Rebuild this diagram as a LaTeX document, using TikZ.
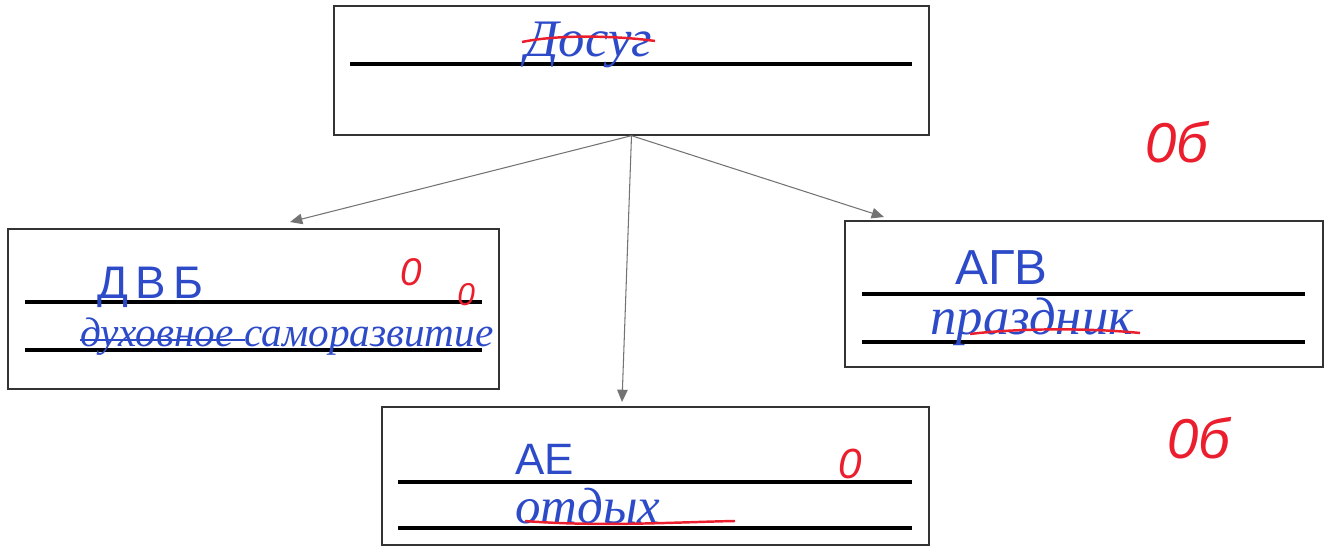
\documentclass[tikz,border=0pt]{standalone}
\usepackage{fontspec}
\setmainfont{Liberation Serif}
\newfontfamily\printfont{Liberation Sans}
\usetikzlibrary{arrows.meta}
\definecolor{ink}{RGB}{45,75,200}
\definecolor{pen}{RGB}{235,30,45}

\begin{document}
\begin{tikzpicture}[x=0.02cm, y=-0.02cm,
        box/.style={draw=black!80, line width=0.8pt, inner sep=0pt},
        rule/.style={line width=1.8pt},
        link/.style={draw=black!55, line width=0.6pt, -{Triangle[length=7pt,width=6pt]}},
        word/.style={text=ink, font=\fontsize{#1}{#1}\selectfont\itshape, anchor=base west, inner sep=0pt},
        caps/.style={text=ink, font=\fontsize{#1}{#1}\printfont, anchor=base west, inner sep=0pt},
        grade/.style={text=pen, font=\fontsize{#1}{#1}\printfont\itshape, anchor=base west, inner sep=0pt}]
            \useasboundingbox (0,0) rectangle (1329,547);

            \node[box, minimum width=11.9cm, minimum height=2.58cm] (top) at (631.5,70.5) {};
            \node[box, minimum width=9.82cm, minimum height=3.2cm] (left) at (253.5,309) {};
            \node[box, minimum width=9.56cm, minimum height=2.92cm] (right) at (1084,294) {};
            \node[box, minimum width=10.94cm, minimum height=2.76cm] (bottom) at (655.5,476) {};

            \draw[rule] (350,64) -- (912,64);
            \draw[rule] (25,302) -- (482,302);
            \draw[rule] (25,350) -- (482,350);
            \draw[rule] (862,294) -- (1305,294);
            \draw[rule] (862,342) -- (1305,342);
            \draw[rule] (398,482) -- (912,482);
            \draw[rule] (398,528) -- (912,528);

            \coordinate (tipL) at (290,222);
            \coordinate (tipM) at (622,402);
            \coordinate (tipR) at (884,217);
            \draw[link] (top.south) -- (tipL);
            \draw[link] (top.south) -- (tipM);
            \draw[link] (top.south) -- (tipR);

            % top box
            \node[word=30] (leisure) at (525,57) {Досуг};
            \draw[pen, line width=1.4pt] (522,42) .. controls (560,34) and (620,36) .. (655,41);

            % left box
            \node[caps=26] (codesL) at (97,298) {Д\,В\,Б};
            \node[grade=22] (zeroA) at (400,286) {0};
            \node[grade=18] (zeroB) at (457,306) {0};
            \node[word=23.5] (growth) at (80,346) {духовное саморазвитие};
            \draw[ink, line width=1.2pt] (80,340) -- (245,340);

            % right box
            \node[caps=28] (codesR) at (955,285) {АГВ};
            \node[word=30] (holiday) at (930,335) {праздник};
            \draw[pen, line width=1.4pt] (970,334) .. controls (1020,328) and (1090,328) .. (1140,333);

            % bottom box
            \node[caps=25] (codesM) at (515,474) {АЕ};
            \node[word=29] (rest) at (515,523) {отдых};
            \draw[pen, line width=1.4pt] (525,521) .. controls (600,527) and (680,522) .. (735,521);
            \node[grade=24] (zeroC) at (838,478) {0};

            % scores
            \node[grade=32] (scoreA) at (1145,163) {0б};
            \node[grade=32] (scoreB) at (1167,458) {0б};
        \end{tikzpicture}
\end{document}
